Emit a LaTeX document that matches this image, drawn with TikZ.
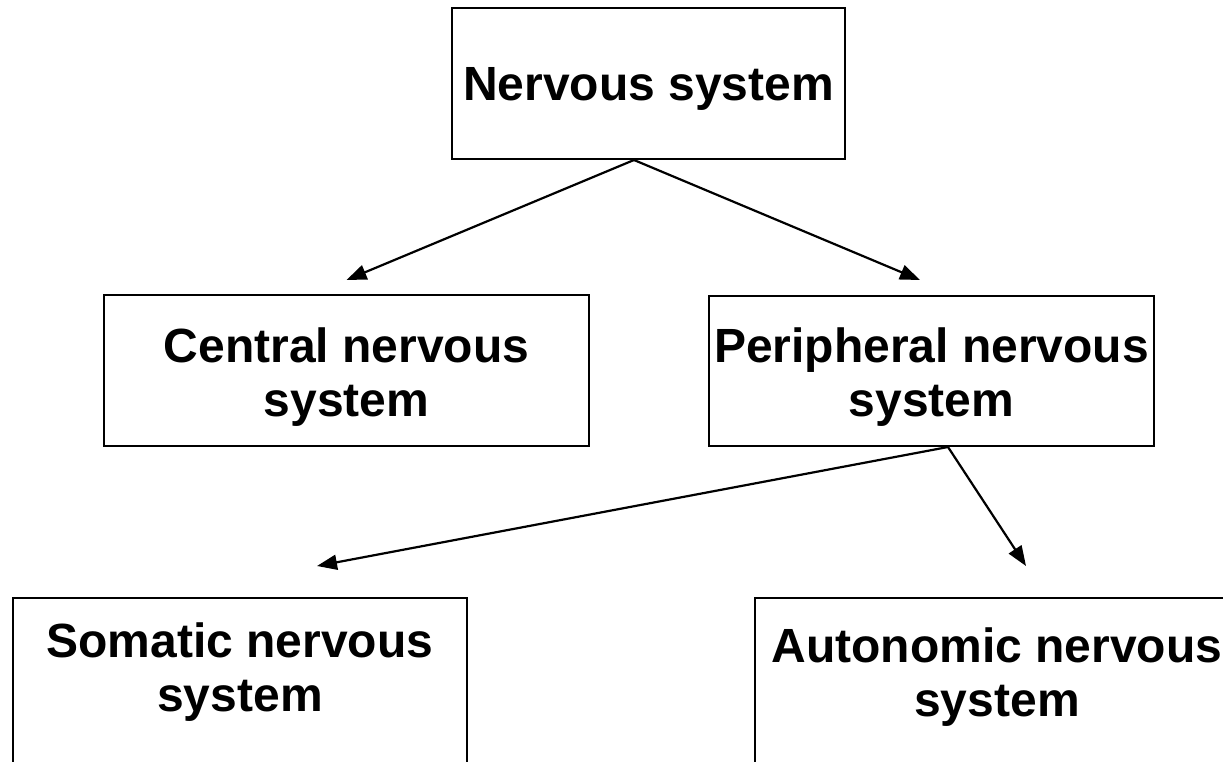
\documentclass[tikz,border=0pt]{standalone}
\usepackage{fontspec}
\setmainfont{Liberation Sans}
\usetikzlibrary{arrows.meta,positioning}

\tikzset{
    box/.style={draw, line width=2pt, inner sep=0pt, anchor=north west},
    lbl/.style={align=center, inner sep=0pt, font=\bfseries\fontsize{48}{54}\selectfont},
    link/.style={line width=2.2pt, -{Triangle[length=20pt,width=15pt]}}
}

\begin{document}
\begin{tikzpicture}[x=1pt,y=-1pt]
    \useasboundingbox (0,0) rectangle (1223,761);

    \node[box, minimum width=393, minimum height=151] (ns)  at (451,7)   {};
    \node[box, minimum width=485, minimum height=151] (cns) at (103,294) {};
    \node[box, minimum width=445, minimum height=150] (pns) at (708,295) {};
    \node[box, minimum width=454, minimum height=200] (sns) at (12,597)  {};
    \node[box, minimum width=484, minimum height=200] (ans) at (754,597) {};

    \node[lbl] (nst)  at ([yshift=-5.5pt]ns.center)  {Nervous system};
    \node[lbl] (cnst) at ([yshift=-6.5pt]cns.center) {Central nervous\\system};
    \node[lbl] (pnst) at ([yshift=-6pt]pns.center)   {Peripheral nervous\\system};
    \node[lbl, below=26pt of sns.north] (snst) {Somatic nervous\\system};
    \node[lbl, below=31pt of ans.north] (anst) {Autonomic nervous\\system};

    \coordinate (nsout)  at ([xshift=-14.5pt]ns.south);
    \coordinate (cnsin)  at ([yshift=14pt]cns.north);
    \coordinate (pnsin)  at ([xshift=-11.5pt,yshift=15pt]pns.north);
    \coordinate (pnsout) at ([xshift=16.5pt]pns.south);
    \coordinate (snsin)  at ([xshift=77pt,yshift=31pt]sns.north);
    \coordinate (ansin)  at ([xshift=29pt,yshift=31pt]ans.north);

    \draw[link] (nsout) -- (cnsin);
    \draw[link] (nsout) -- (pnsin);
    \draw[link] (pnsout) -- (snsin);
    \draw[link] (pnsout) -- (ansin);

\end{tikzpicture}
\end{document}
